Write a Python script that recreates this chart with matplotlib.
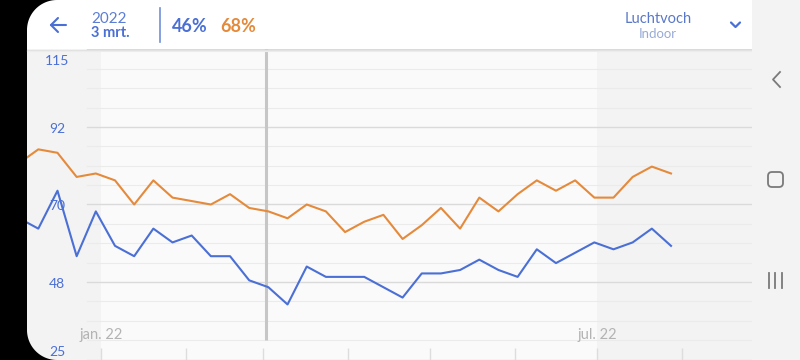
import numpy as np
import pandas as pd
import matplotlib
matplotlib.use('Agg')
import matplotlib.pyplot as plt
import matplotlib.dates as mdates
from matplotlib import transforms
from matplotlib.patches import Rectangle, FancyBboxPatch, Polygon
from matplotlib.lines import Line2D

plt.rcParams['font.family'] = ['Lato', 'DejaVu Sans']

# weekly readings (%), the first one sits just off the left edge
week_start = '2021-12-02'
low_pct = [66, 63, 74, 55, 68, 58, 55, 63, 59, 61, 55, 55, 48, 46, 41, 52, 49, 49,
           49, 46, 43, 50, 50, 51, 54, 51, 49, 57, 53, 56, 59, 57, 59, 63, 58]
high_pct = [82, 86, 85, 78, 79, 77, 70, 77, 72, 71, 70, 73, 69, 68, 66, 70, 68, 62,
            65, 67, 60, 64, 69, 63, 72, 68, 73, 77, 74, 77, 72, 72, 78, 81, 79]

y_ticks = [25, 47.5, 70, 92.5, 115]
y_labels = ['25', '48', '70', '92', '115']
month_labels = {'2022-01-01': 'jan. 22', '2022-07-01': 'jul. 22'}
selected_day = '2022-03-03'
header_year = '2022'
header_day = '3 mrt.'
title = 'Luchtvoch'
subtitle = 'Indoor'

BLUE = '#4a6fd5'
ORANGE = '#e58a3b'
W, H = 800, 360

fig = plt.figure(figsize=(8, 3.6), dpi=100, facecolor='black')
# pixel coords, origin top-left
PX = transforms.Affine2D().scale(1 / W, -1 / H).translate(0, 1) + fig.transFigure

ax = fig.add_axes([27 / W, 0.4 / H, 725 / W, 310.2 / H])
ax.set_facecolor('#f3f3f3')
for s in ax.spines.values():
    s.set_visible(False)

dates = pd.date_range(week_start, periods=len(low_pct), freq='7D')
x_left = pd.Timestamp('2021-12-09') - pd.Timedelta(days=4.13)
ax.set_xlim(x_left, x_left + pd.Timedelta(days=264.7))
ax.set_ylim(y_ticks[0], y_ticks[-1])

# lighter half year band
ax.axvspan(pd.Timestamp('2022-01-01'), pd.Timestamp('2022-07-01'),
           color='#fafafa', lw=0, zorder=0)

# grid: 4 minor steps between the labelled lines
grid_vals = np.linspace(y_ticks[0], y_ticks[-1], 17)
for v in grid_vals:
    is_major = np.isclose(y_ticks, v).any()
    ax.axhline(v, xmin=60 / 725, color='#dadada' if is_major else '#ebebeb',
               lw=1.0 if is_major else 0.8, zorder=1)

months = pd.date_range('2022-01-01', '2022-08-01', freq='MS')
ax.set_xticks(months)
ax.tick_params(axis='x', direction='in', length=8.5, width=1, color='#dddddd',
               labelbottom=False)
ax.tick_params(axis='y', left=False, labelleft=False)

# selection cursor
cursor = pd.Timestamp(selected_day) - pd.Timedelta(days=1)
ax.plot([cursor, cursor], [grid_vals[1], y_ticks[-1]], color='#c6c6c6', lw=2.2,
        solid_capstyle='butt', zorder=2)

ax.plot(dates, high_pct, color=ORANGE, lw=1.5, zorder=3)
ax.plot(dates, low_pct, color=BLUE, lw=1.5, zorder=3)

# month labels
xt = transforms.blended_transform_factory(ax.transData, PX)
for d, lab in month_labels.items():
    ax.text(mdates.date2num(pd.Timestamp(d)), 339, lab, transform=xt, ha='center',
            va='baseline', fontsize=10.5, color='#b3b3b3', zorder=5)

# y labels, the outer ones pushed inside the screen
yt = transforms.blended_transform_factory(PX, ax.transData)
for v, lab in zip(y_ticks, y_labels):
    dy = -6
    if v == y_ticks[-1]:
        dy = -15.6
    if v == y_ticks[0]:
        dy = 3.6
    ax.annotate(lab, xy=(57, v), xycoords=yt, xytext=(0, dy * 0.72),
                textcoords='offset points', ha='center', va='baseline',
                fontsize=10, color=BLUE, zorder=5)

# header bar
fig.add_artist(Rectangle((27, 0), 725, 49, transform=PX, facecolor='white',
                         edgecolor='none', zorder=10))
fig.add_artist(Line2D([27, 752], [49.5, 49.5], transform=PX, color='#e2e2e2',
                      lw=0.8, zorder=10))
fig.add_artist(Line2D([27, 752], [50.5, 50.5], transform=PX, color='#ececec',
                      lw=0.8, zorder=10))

fig.add_artist(Line2D([51, 66], [25, 25], transform=PX, color=BLUE, lw=1.5,
                      solid_capstyle='round', zorder=11))
fig.add_artist(Line2D([58, 51, 58], [18, 25, 32], transform=PX, color=BLUE, lw=1.5,
                      solid_capstyle='round', zorder=11))
fig.add_artist(Line2D([159.5, 159.5], [8, 42], transform=PX, color='#6f8fdc',
                      lw=1.2, zorder=11))
fig.add_artist(Line2D([731, 735.5, 740], [22.5, 27, 22.5], transform=PX, color=BLUE,
                      lw=1.6, solid_capstyle='round', zorder=11))

sel = list(dates).index(pd.Timestamp(selected_day))
fig.text(91, 23, header_year, transform=PX, fontsize=11, color='#5b7dd6',
         va='baseline', zorder=11)
fig.text(91, 37.3, header_day, transform=PX, fontsize=10.5, fontweight='bold',
         color=BLUE, va='baseline', zorder=11)
fig.text(172, 31.7, f'{low_pct[sel]}%', transform=PX, fontsize=13,
         fontweight='bold', color=BLUE, va='baseline', zorder=11)
fig.text(220, 31.7, f'{high_pct[sel]}%', transform=PX, fontsize=13,
         fontweight='bold', color=ORANGE, va='baseline', zorder=11)
fig.text(658, 22.7, title, transform=PX, fontsize=10.5, color='#5a78c8',
         ha='center', va='baseline', zorder=11)
fig.text(658, 38.3, subtitle, transform=PX, fontsize=9.5, color='#98aad6',
         ha='center', va='baseline', zorder=11)

# phone nav bar on the right
fig.add_artist(Rectangle((752, 0), 48, 360, transform=PX, facecolor='#f3f3f3',
                         edgecolor='none', zorder=10))
NAV = '#7a7a7a'
fig.add_artist(Line2D([780, 773, 780], [72, 79.5, 87], transform=PX, color=NAV,
                      lw=1.3, zorder=11))
fig.add_artist(FancyBboxPatch((768, 172), 15, 15, boxstyle='round,pad=0,rounding_size=4',
                              transform=PX, fill=False, edgecolor=NAV, lw=1.3, zorder=11))
for bx in (768.5, 775, 781.5):
    fig.add_artist(Line2D([bx, bx], [273, 288], transform=PX, color=NAV, lw=1.3,
                          zorder=11))

# rounded screen corners on the left
r = 30
t = np.linspace(0, np.pi / 2, 30)
top = [(27, 0)] + [(27 + r - r * np.sin(a), r - r * np.cos(a)) for a in t]
bot = [(27, 360)] + [(27 + r - r * np.sin(a), 360 - r + r * np.cos(a)) for a in t]
for pts in (top, bot):
    fig.add_artist(Polygon(pts, closed=True, transform=PX, facecolor='black',
                           edgecolor='none', zorder=20))

fig.savefig('out.png', dpi=100, facecolor='black')
